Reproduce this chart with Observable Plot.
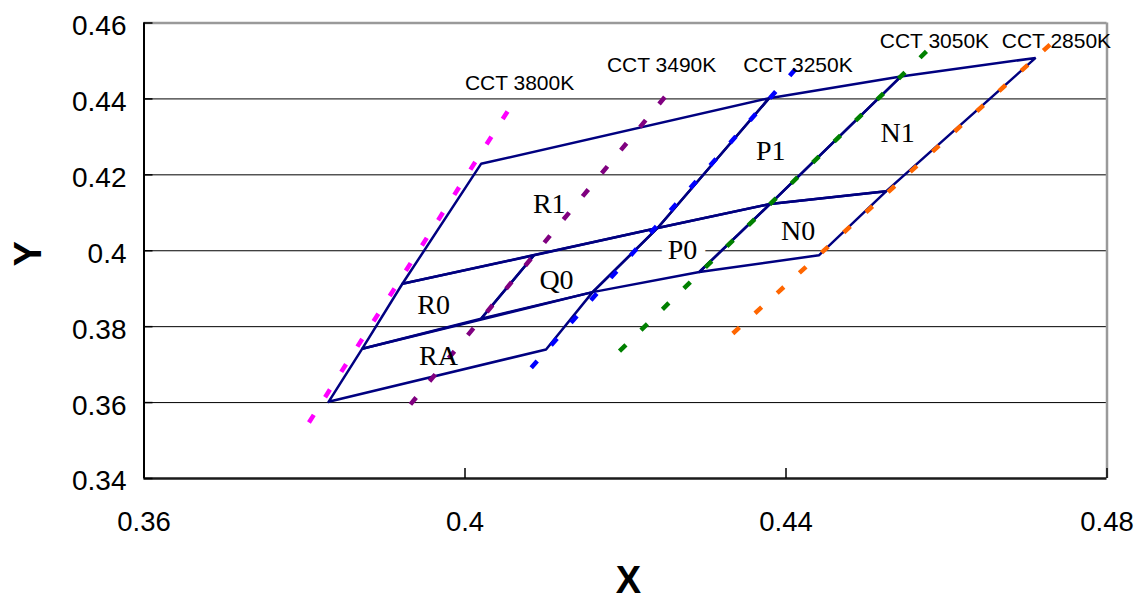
<!DOCTYPE html>
<html>
<head>
<meta charset="utf-8">
<script src="https://cdn.jsdelivr.net/npm/d3@7"></script>
<script src="https://cdn.jsdelivr.net/npm/@observablehq/plot@0.6"></script>
<style>
  html, body { margin: 0; padding: 0; background: #fff; }
  #chart svg { display: block; }
</style>
</head>
<body>
<div id="chart"></div>
<script>
// ---- axis ticks ----
const xTicks = [0.36, 0.4, 0.44, 0.48];
const yTicks = [0.34, 0.36, 0.38, 0.4, 0.42, 0.44, 0.46];
const gridY = [0.36, 0.38, 0.4, 0.42, 0.44];

// ---- bin quadrangles (x, y corners) ----
const binRA = [[0.3830, 0.3602], [0.3872, 0.3742], [0.4159, 0.3891], [0.4101, 0.3740]];
const binR0 = [[0.3872, 0.3742], [0.3922, 0.3913], [0.4086, 0.3988], [0.4020, 0.3821]];
const binR1 = [[0.3922, 0.3913], [0.4020, 0.4229], [0.4379, 0.4402], [0.4240, 0.4060]];
const binQ0 = [[0.4020, 0.3821], [0.4086, 0.3988], [0.4240, 0.4060], [0.4159, 0.3891]];
const binP0 = [[0.4159, 0.3891], [0.4240, 0.4060], [0.4380, 0.4123], [0.4292, 0.3944]];
const binP1 = [[0.4240, 0.4060], [0.4379, 0.4402], [0.4543, 0.4459], [0.4380, 0.4123]];
const binN0 = [[0.4292, 0.3944], [0.4380, 0.4123], [0.4525, 0.4157], [0.4441, 0.3988]];
const binN1 = [[0.4380, 0.4123], [0.4543, 0.4459], [0.4711, 0.4508], [0.4525, 0.4157]];

// ---- bin labels ----
const binLabels = ["RA", "R0", "R1", "Q0", "P0", "P1", "N0", "N1"];
const binLabelX = [0.3967, 0.3961, 0.4105, 0.4114, 0.4271, 0.4381, 0.4415, 0.4539];
const binLabelY = [0.3722, 0.3858, 0.4124, 0.3922, 0.4001, 0.4264, 0.4052, 0.4310];

// ---- CCT isotherm lines ----
const cctNames = ["CCT 3800K", "CCT 3490K", "CCT 3250K", "CCT 3050K", "CCT 2850K"];
const cctTopX = [0.4053, 0.4249, 0.4412, 0.4575, 0.4729];
const cctTopY = [0.4367, 0.4405, 0.4479, 0.4525, 0.4543];
const cctBottomX = [0.3799, 0.3928, 0.4073, 0.4187, 0.4329];
const cctBottomY = [0.3526, 0.3585, 0.3669, 0.3724, 0.3773];
const cctColors = ["#ff00ff", "#800080", "#0000ff", "#008000", "#ff6600"];
const cctLabelX = [0.4068, 0.4245, 0.4415, 0.4585, 0.4737];
const cctLabelY = [0.4441, 0.4488, 0.4488, 0.4552, 0.4552];

// ---- build tables ----
const binNames = ["RA", "R0", "R1", "Q0", "P0", "P1", "N0", "N1"];
const binPolys = [binRA, binR0, binR1, binQ0, binP0, binP1, binN0, binN1];
const binPoints = [];
binPolys.forEach((poly, k) => {
  [...poly, poly[0]].forEach(([x, y]) => binPoints.push({bin: binNames[k], x, y}));
});
const cctTable = cctNames.map((name, i) => ({
  name, x1: cctTopX[i], y1: cctTopY[i], x2: cctBottomX[i], y2: cctBottomY[i],
  color: cctColors[i], lx: cctLabelX[i], ly: cctLabelY[i]
}));
const labelTable = binLabels.map((t, i) => ({t, x: binLabelX[i], y: binLabelY[i]}));

const W = 1144, H = 602;
const mL = 143.5, mR = 37.5, mT = 22.5, mB = 124;
const plotW = W - mL - mR, plotH = H - mT - mB;
const fmt = d => String(+d.toFixed(2));

const chart = Plot.plot({
  width: W,
  height: H,
  marginLeft: mL,
  marginRight: mR,
  marginTop: mT,
  marginBottom: mB,
  style: {fontFamily: "'Liberation Sans', Arial, sans-serif", background: "#fff"},
  x: {domain: [0.36, 0.48], axis: null},
  y: {domain: [0.34, 0.46], axis: null},
  color: {type: "identity"},
  marks: [
    // gridlines
    Plot.ruleY(gridY, {stroke: "#000", strokeWidth: 1}),
    // frame: top & right grey, left & bottom black
    Plot.ruleY([0.46], {stroke: "#9a9a9a", strokeWidth: 2.5}),
    Plot.ruleX([0.48], {stroke: "#9a9a9a", strokeWidth: 2.5}),
    Plot.ruleX([0.36], {stroke: "#000", strokeWidth: 2}),
    Plot.ruleY([0.34], {stroke: "#1a1a1a", strokeWidth: 2.5}),
    // inward tick marks
    Plot.ruleY(yTicks, {stroke: "#000", strokeWidth: 1.5, insetRight: plotW - 9}),
    Plot.ruleX(xTicks, {stroke: "#000", strokeWidth: 1.5, insetTop: plotH - 10}),
    // bin quadrangles
    Plot.line(binPoints, {x: "x", y: "y", z: "bin", stroke: "#000080", strokeWidth: 2.5, strokeLinejoin: "miter", curve: "linear"}),
    // CCT dashed lines
    Plot.link(cctTable, {x1: "x1", y1: "y1", x2: "x2", y2: "y2", stroke: "color", strokeWidth: 4.5, strokeDasharray: "9,21", strokeLinecap: "butt"}),
    // CCT labels
    Plot.text(cctTable, {x: "lx", y: "ly", text: "name", fontSize: 21, fill: "#000", fontFamily: "'Liberation Sans', Arial, sans-serif"}),
    // bin labels (P0 has white background)
    Plot.text(labelTable, {filter: d => d.t === "P0", x: "x", y: "y", text: "t", fontSize: 28, fill: "#fff", stroke: "#fff", strokeWidth: 18, fontFamily: "'Liberation Serif', 'Times New Roman', serif"}),
    Plot.text(labelTable, {x: "x", y: "y", text: "t", fontSize: 28, fill: "#000", fontFamily: "'Liberation Serif', 'Times New Roman', serif"}),
    // axis tick labels
    Plot.axisY(yTicks, {tickSize: 0, tickPadding: 17.5, dy: 3, fontSize: 28, label: null, tickFormat: fmt, fill: "#000"}),
    Plot.axisX(xTicks, {tickSize: 0, tickPadding: 33, fontSize: 27.5, label: null, tickFormat: fmt, fill: "#000"}),
    // axis titles
    Plot.text(["X"], {frameAnchor: "bottom", lineAnchor: "middle", textAnchor: "middle", dx: 3, dy: 102, fontSize: 38, fontWeight: "bold", fill: "#000"}),
    Plot.text(["Y"], {frameAnchor: "left", lineAnchor: "middle", textAnchor: "middle", dx: -115.5, dy: 3, rotate: -90, fontSize: 38, fontWeight: "bold", fill: "#000"})
  ]
});
document.getElementById("chart").appendChild(chart);
</script>
</body>
</html>
